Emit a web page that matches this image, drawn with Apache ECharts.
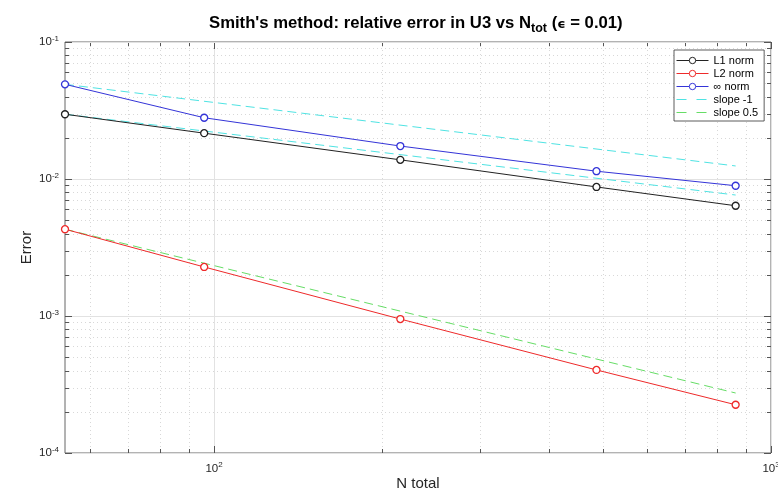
<!DOCTYPE html>
<html>
<head>
<meta charset="utf-8">
<script src="https://cdn.jsdelivr.net/npm/echarts@6/dist/echarts.min.js"></script>
<style>
html, body { margin: 0; padding: 0; background: #fff; }
#chart { width: 778px; height: 494px; }
</style>
</head>
<body>
<div id="chart"></div>
<script>
// values
const nTotal = [54, 96, 216, 486, 864]
const errL1 = [0.0297, 0.0216, 0.0138, 0.00875, 0.00638]
const errL2 = [0.0043, 0.00228, 0.00095, 0.000404, 0.000225]
const errInf = [0.0491, 0.028, 0.0174, 0.0114, 0.00893]

// dashed reference lines (end points only)
const slopeN = [54, 864]
const slopeUpper = [0.0491, 0.01245]
const slopeLower = [0.0297, 0.00764]
const slopeHalf = [0.0043, 0.000274]

// axis ranges and ticks
const X_MIN = 54, X_MAX = 1000
const Y_MIN = 1e-4, Y_MAX = 1e-1
const xMajor = [100, 1000]
const xMinor = [60, 70, 80, 90, 200, 300, 400, 500, 600, 700, 800, 900]
const yMajor = [1e-4, 1e-3, 1e-2, 1e-1]
const yMinor = []
;[1e-4, 1e-3, 1e-2].forEach(d => { for (let k = 2; k <= 9; k++) yMinor.push(k * d) })

const FONT = '"Liberation Sans", Arial, Helvetica, sans-serif'

const pair = (xs, ys) => xs.map((x, i) => [x, ys[i]])

// kind: 0 x minor, 1 x major, 2 y minor, 3 y major
const gridItems = []
xMinor.forEach(v => gridItems.push([v, Y_MIN, 0]))
xMajor.forEach(v => gridItems.push([v, Y_MIN, 1]))
yMinor.forEach(v => gridItems.push([X_MIN, v, 2]))
yMajor.forEach(v => gridItems.push([X_MIN, v, 3]))

const px = v => Math.round(v) + 0.5

const renderGrid = (params, api) => {
  const kind = api.value(2)
  const children = []
  const minorStyle = { stroke: '#d8d8d8', lineWidth: 1, lineDash: [1, 3] }
  const majorStyle = { stroke: '#e2e2e2', lineWidth: 1 }
  const tickStyle = { stroke: '#555', lineWidth: 1 }
  if (kind < 2) {
    const v = api.value(0)
    const top = api.coord([v, Y_MAX])
    const bot = api.coord([v, Y_MIN])
    const x = px(top[0])
    const len = kind === 1 ? 7 : 4
    children.push({ type: 'line', shape: { x1: x, y1: top[1], x2: x, y2: bot[1] }, style: kind === 1 ? majorStyle : minorStyle })
    children.push({ type: 'line', shape: { x1: x, y1: bot[1], x2: x, y2: bot[1] - len }, style: tickStyle })
    children.push({ type: 'line', shape: { x1: x, y1: top[1], x2: x, y2: top[1] + len }, style: tickStyle })
  } else {
    const v = api.value(1)
    const l = api.coord([X_MIN, v])
    const r = api.coord([X_MAX, v])
    const y = px(l[1])
    const len = kind === 3 ? 7 : 4
    children.push({ type: 'line', shape: { x1: l[0], y1: y, x2: r[0], y2: y }, style: kind === 3 ? majorStyle : minorStyle })
    children.push({ type: 'line', shape: { x1: l[0], y1: y, x2: l[0] + len, y2: y }, style: tickStyle })
    children.push({ type: 'line', shape: { x1: r[0], y1: y, x2: r[0] - len, y2: y }, style: tickStyle })
  }
  return { type: 'group', children }
}

const powLabel = (value) => {
  const e = Math.log10(value)
  const r = Math.round(e)
  if (Math.abs(e - r) > 1e-6) return ''
  return '{b|10}{e|' + r + '}'
}

const labelRich = {
  b: { fontSize: 11.5, color: '#262626', fontFamily: FONT },
  e: { fontSize: 8, color: '#262626', fontFamily: FONT, padding: [0, 0, 7, 0] }
}

const normSeries = (name, data, color) => ({
  name,
  type: 'line',
  data: pair(nTotal, data),
  symbol: 'circle',
  symbolSize: 7,
  lineStyle: { color, width: 1 },
  itemStyle: { color: '#fff', borderColor: color, borderWidth: 1.3 },
  z: 4,
  silent: true
})

const slopeSeries = (name, data, color) => ({
  name,
  type: 'line',
  data: pair(slopeN, data),
  symbol: 'none',
  lineStyle: { color, width: 1, type: [9, 5] },
  itemStyle: { color },
  z: 3,
  silent: true
})

const slopeLegend = name => ({ name, itemStyle: { opacity: 0 }, lineStyle: { width: 1, type: [10, 10] } })

const chart = echarts.init(document.getElementById('chart'))
chart.setOption({
  animation: false,
  backgroundColor: '#fff',
  textStyle: { fontFamily: FONT },
  title: {
    text: "{t|Smith's method: relative error in U3 vs N}{sub|tot}{t| (}{eps|ϵ}{t| = 0.01)}",
    left: 209,
    top: 11,
    padding: 0,
    textStyle: {
      rich: {
        t: { fontSize: 16.7, fontWeight: 'bold', color: '#000', fontFamily: FONT },
        sub: { fontSize: 12.5, fontWeight: 'bold', color: '#000', fontFamily: FONT, padding: [11, 0, 0, 0] },
        eps: { fontSize: 13, color: '#000', fontFamily: 'DejaVu Sans', padding: [3, 0, 0, 0] }
      }
    }
  },
  grid: {
    left: 65, right: 7, top: 42, bottom: 41,
    outerBoundsMode: 'none',
    show: true, borderColor: '#666', borderWidth: 1, backgroundColor: '#fff'
  },
  legend: {
    data: [
      'L1 norm', 'L2 norm', '∞ norm',
      slopeLegend('slope -1'), slopeLegend('slope 0.5')
    ],
    orient: 'vertical',
    left: 674,
    top: 50,
    itemWidth: 32,
    itemHeight: 8,
    itemGap: 2,
    padding: [5, 6, 3, 2],
    backgroundColor: '#fff',
    borderColor: '#333',
    borderWidth: 0.8,
    borderRadius: 0,
    lineStyle: { width: 1 },
    itemStyle: { borderWidth: 1 },
    textStyle: { fontSize: 11, color: '#000', fontFamily: FONT }
  },
  xAxis: {
    type: 'log',
    logBase: 10,
    min: X_MIN,
    max: X_MAX,
    name: 'N total',
    nameLocation: 'middle',
    nameGap: 23,
    nameMoveOverlap: false,
    nameTextStyle: { fontSize: 15, color: '#262626', fontFamily: FONT },
    axisLine: { show: false },
    axisTick: { show: false },
    splitLine: { show: false },
    axisLabel: { formatter: powLabel, rich: labelRich, margin: 8, showMinLabel: false }
  },
  yAxis: {
    type: 'log',
    logBase: 10,
    min: Y_MIN,
    max: Y_MAX,
    name: 'Error',
    nameLocation: 'middle',
    nameGap: 31,
    nameMoveOverlap: false,
    nameTextStyle: { fontSize: 15, color: '#262626', fontFamily: FONT },
    axisLine: { show: false },
    axisTick: { show: false },
    splitLine: { show: false },
    axisLabel: { formatter: powLabel, rich: labelRich, margin: 6 }
  },
  series: [
    {
      type: 'custom',
      data: gridItems,
      renderItem: renderGrid,
      encode: { x: 0, y: 1 },
      silent: true,
      clip: false,
      z: 1
    },
    normSeries('L1 norm', errL1, '#222222'),
    normSeries('L2 norm', errL2, '#ee2a2a'),
    normSeries('∞ norm', errInf, '#3434d8'),
    slopeSeries('slope -1', slopeUpper, '#4fe3e3'),
    slopeSeries('slope -1', slopeLower, '#4fe3e3'),
    slopeSeries('slope 0.5', slopeHalf, '#66dd66')
  ]
})
</script>
</body>
</html>
